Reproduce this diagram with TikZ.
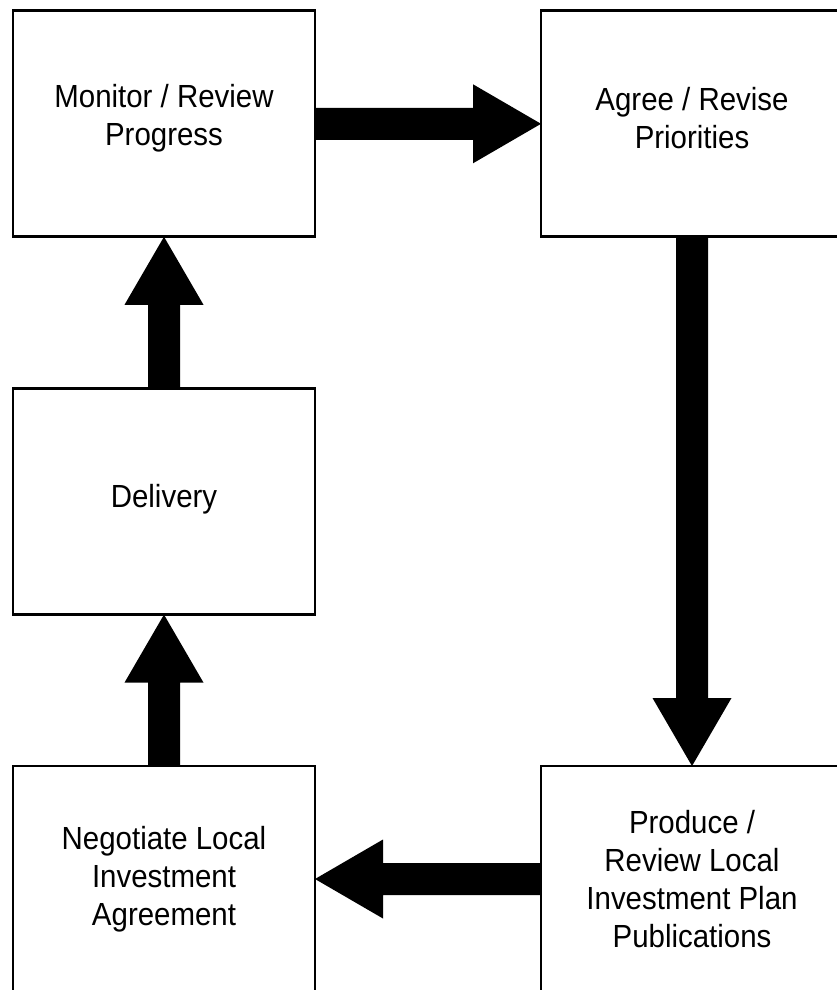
\documentclass[tikz,border=0pt]{standalone}
\usepackage{fontspec}
\setmainfont{Liberation Sans}[FakeStretch=0.92]
\usetikzlibrary{calc}
\tikzset{
  stagebox/.style={draw=black, line width=2.8pt, fill=white, minimum width=302pt, minimum height=226pt, inner sep=0pt, outer sep=0pt},
  lbl/.style={align=center, inner sep=0pt, font=\fontsize{32}{38}\selectfont},
}
\newcommand\blockarrow[2]{%
  \coordinate (ba-s) at (#1);
  \coordinate (ba-e) at (#2);
  \coordinate (ba-h) at ($(ba-e)!68pt!(ba-s)$);
  \fill[black] ($(ba-s)!16pt!90:(ba-e)$) -- ($(ba-h)!16pt!-90:(ba-s)$) -- ($(ba-h)!39.5pt!-90:(ba-s)$) -- (ba-e)
    -- ($(ba-h)!39.5pt!90:(ba-s)$) -- ($(ba-h)!16pt!90:(ba-s)$) -- ($(ba-s)!16pt!-90:(ba-e)$) -- cycle;}
\begin{document}
\begin{tikzpicture}[x=1pt,y=-1pt]
\useasboundingbox[fill=white] (0,0) rectangle (837,990);
\node[stagebox] (mon) at (164,123.8) {};
\node[stagebox] (agr) at (692,123.8) {};
\node[stagebox] (del) at (164,501.6) {};
\node[stagebox] (neg) at (164,879) {};
\node[stagebox] (prod) at (692,879) {};
\node[lbl] (tmon) at ([yshift=6pt]mon.center) {Monitor / Review\\Progress};
\node[lbl] (tagr) at ([yshift=6pt]agr.center) {Agree / Revise\\Priorities};
\node[lbl] (tdel) at ([yshift=2pt]del.center) {Delivery};
\node[lbl] (tneg) at (neg.center) {Negotiate Local\\Investment\\Agreement};
\node[lbl] (tprod) at (prod.center) {Produce /\\Review Local\\Investment Plan\\Publications};
\blockarrow{mon.east}{agr.west}
\blockarrow{agr.south}{prod.north}
\blockarrow{prod.west}{neg.east}
\blockarrow{neg.north}{del.south}
\blockarrow{del.north}{mon.south}
\end{tikzpicture}
\end{document}
